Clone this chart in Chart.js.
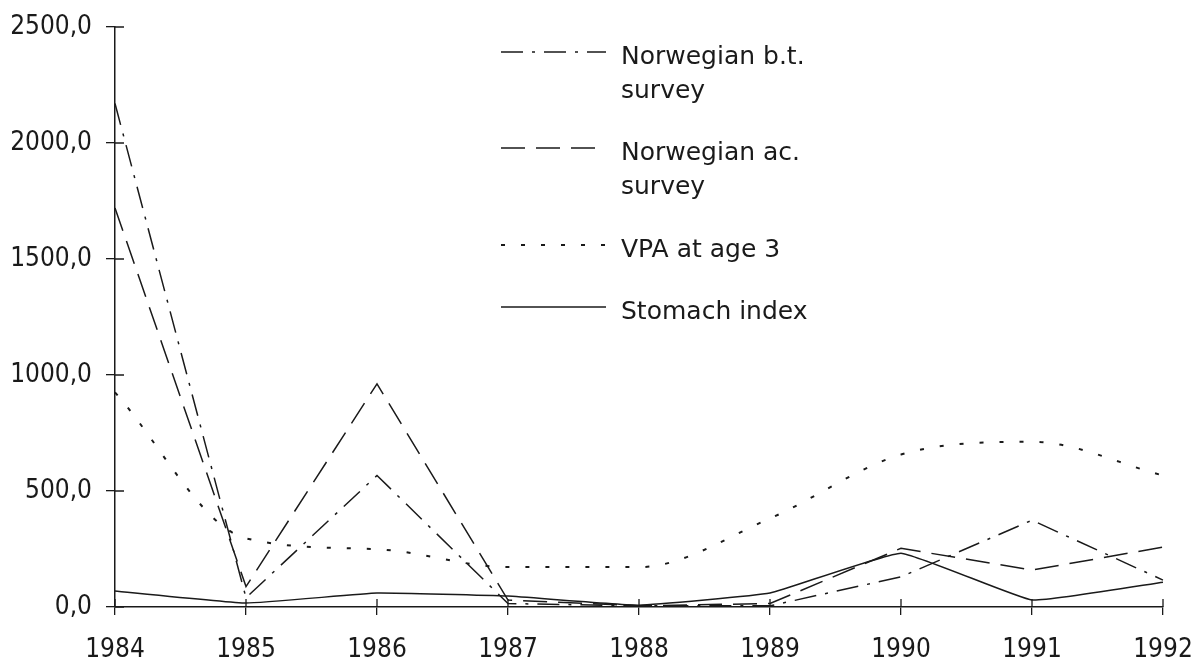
<!DOCTYPE html>
<html lang="en">
<head>
  <meta charset="UTF-8">
  <script src="https://cdn.jsdelivr.net/npm/chart.js"></script>
  <title>Recruitment indices</title>
  <style>
    html, body { margin: 0; padding: 0; background: #fff; }
    #wrap { width: 1197px; height: 664px; }
  </style>
</head>
<body>
  <div id="wrap"><canvas id="myChart" width="1197" height="664"></canvas></div>
  <script>
    // data
    const years = ['1984', '1985', '1986', '1987', '1988', '1989', '1990', '1991', '1992'];
    const btSurvey = [2170, 40, 567, 15, 5, 5, 130, 374, 116];
    const acSurvey = [1720, 88, 962, 30, 5, 15, 253, 159, 258];
    const vpaAge3 = [925, 296, 249, 172, 172, 382, 657, 712, 567];
    const stomachIndex = [69, 17, 60, 47, 8, 60, 232, 30, 107];
    const legendLines = [
      ['Norwegian b.t.', 'survey'],
      ['Norwegian ac.', 'survey'],
      ['VPA at age 3'],
      ['Stomach index']
    ];

    const ink = '#1a1a1a';
    const tickFont = '"DejaVu Sans Condensed", "DejaVu Sans", sans-serif';
    const legendFont = '"DejaVu Sans", sans-serif';

    // ticks that cross the axes + legend with wrapped labels
    const extras = {
      id: 'extras',
      afterDraw(chart) {
        const ctx = chart.ctx;
        const x = chart.scales.x, y = chart.scales.y;
        ctx.save();
        ctx.strokeStyle = ink;
        ctx.lineWidth = 1.3;
        ctx.beginPath();
        y.ticks.forEach(t => {
          const py = y.getPixelForValue(t.value);
          ctx.moveTo(x.left, py); ctx.lineTo(x.left + 9, py);
        });
        years.forEach((yr, i) => {
          const px = x.getPixelForValue(i);
          ctx.moveTo(px, y.bottom); ctx.lineTo(px, y.bottom - 8);
        });
        ctx.stroke();

        // legend
        const rowsY = [52, 148, 245, 307];
        ctx.font = '25px ' + legendFont;
        ctx.fillStyle = ink;
        ctx.textBaseline = 'middle';
        chart.data.datasets.forEach((ds, i) => {
          const ly = rowsY[i];
          ctx.beginPath();
          ctx.setLineDash(ds.borderDash || []);
          ctx.lineWidth = ds.borderWidth;
          ctx.moveTo(501, ly); ctx.lineTo(606, ly);
          ctx.stroke();
          ctx.setLineDash([]);
          legendLines[i].forEach((txt, k) => {
            ctx.fillText(txt, 621, ly + 5 + k * 34);
          });
        });
        ctx.restore();
      }
    };

    const ctx = document.getElementById('myChart');
    new Chart(ctx, {
      type: 'line',
      data: {
        labels: years,
        datasets: [
          { label: 'Norwegian b.t. survey', data: btSurvey, borderColor: ink, borderWidth: 1.5, borderDash: [22, 9, 3, 9], pointRadius: 0, tension: 0 },
          { label: 'Norwegian ac. survey', data: acSurvey, borderColor: ink, borderWidth: 1.5, borderDash: [24, 11], pointRadius: 0, tension: 0 },
          { label: 'VPA at age 3', data: vpaAge3, borderColor: ink, borderWidth: 2, borderDash: [4, 16], pointRadius: 0, cubicInterpolationMode: 'monotone' },
          { label: 'Stomach index', data: stomachIndex, borderColor: ink, borderWidth: 1.5, pointRadius: 0, tension: 0.1 }
        ]
      },
      options: {
        responsive: false,
        animation: false,
        layout: { padding: { left: 0, right: 34, top: 27, bottom: 0 } },
        plugins: {
          legend: { display: false },
          tooltip: { enabled: false }
        },
        scales: {
          x: {
            offset: false,
            border: { display: true, color: ink, width: 1.5 },
            grid: { display: true, drawOnChartArea: false, color: ink, tickLength: 8, lineWidth: 1.3 },
            ticks: { color: ink, font: { family: tickFont, size: 26 }, padding: 20, maxRotation: 0 },
            afterFit(s) { s.height = 57; s.paddingLeft = 0; s.paddingRight = 0; }
          },
          y: {
            min: 0,
            max: 2500,
            border: { display: true, color: ink, width: 1.5 },
            grid: { display: true, drawOnChartArea: false, color: ink, tickLength: 9, lineWidth: 1.3 },
            ticks: {
              stepSize: 500,
              color: ink,
              font: { family: tickFont, size: 26 },
              padding: 14,
              callback: v => v.toFixed(1).replace('.', ',')
            },
            afterFit(s) { s.width = 115; s.paddingTop = 0; s.paddingBottom = 0; }
          }
        }
      },
      plugins: [extras]
    });
  </script>
</body>
</html>
